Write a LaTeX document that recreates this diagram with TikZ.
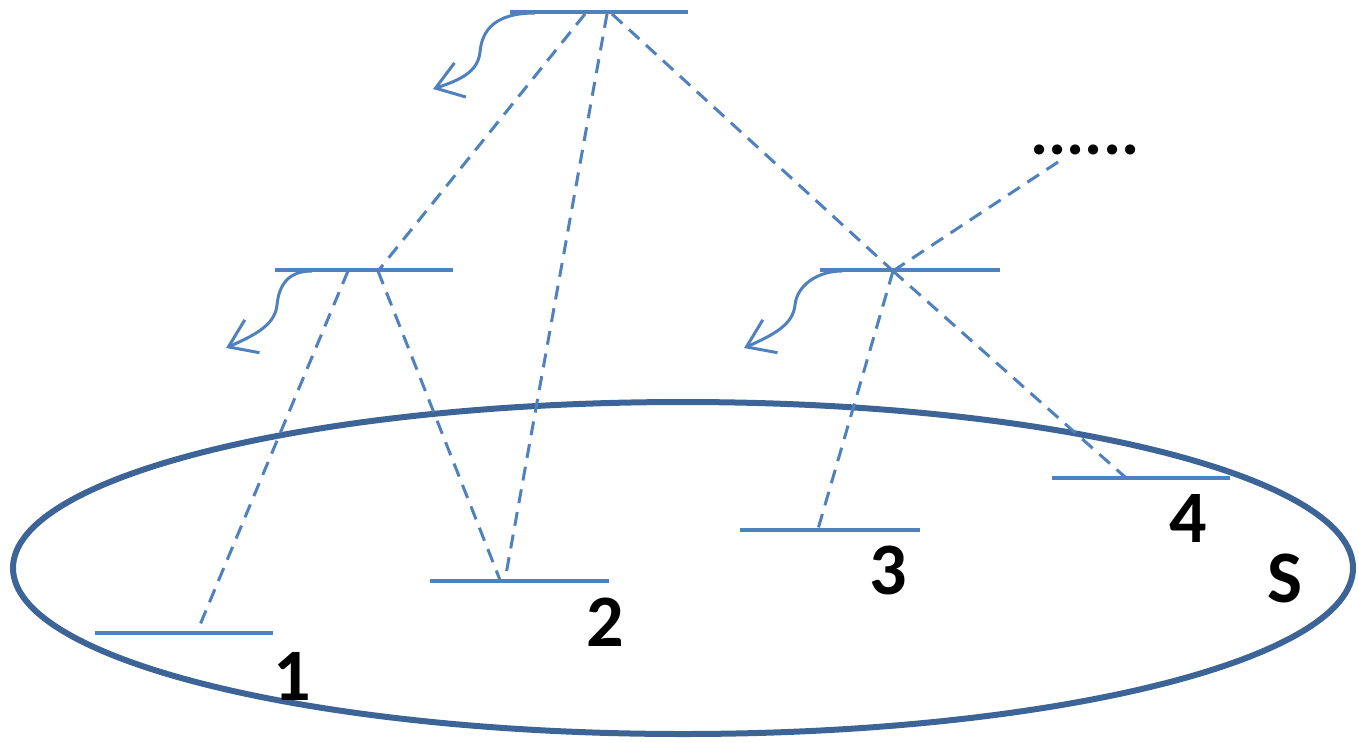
\documentclass[tikz,border=0pt]{standalone}
\usepackage{fontspec}
\setmainfont{Carlito}
\usetikzlibrary{arrows.meta}
\definecolor{lvl}{RGB}{79,129,189}
\definecolor{ell}{RGB}{60,100,150}
\begin{document}
\begin{tikzpicture}[x=1pt,y=-1pt,
  level/.style={draw=lvl,line width=3.5pt},
  trans/.style={draw=lvl,line width=3pt,dash pattern=on 14pt off 9pt},
  decay/.style={draw=lvl,line width=3pt,-{Straight Barb[length=26pt,width=36pt,line width=3pt]}},
  lab/.style={font=\fontsize{74}{80}\selectfont\bfseries,text=black,inner sep=0pt}]
\useasboundingbox (0,0) rectangle (1359,742);
% system ellipse
\draw[draw=ell,line width=6pt] (683,568) ellipse [x radius=670, y radius=166];
% levels
\coordinate (t1) at (510,12);   \coordinate (t2) at (688,12);
\coordinate (l1) at (275,270);  \coordinate (l2) at (453,270);
\coordinate (r1) at (820,270);  \coordinate (r2) at (1000,270);
\coordinate (a1) at (95,633);   \coordinate (a2) at (273,633);
\coordinate (b1) at (430,581);  \coordinate (b2) at (609,581);
\coordinate (c1) at (740,530);  \coordinate (c2) at (920,530);
\coordinate (d1) at (1052,478); \coordinate (d2) at (1230,478);
\foreach \p/\q in {t1/t2,l1/l2,r1/r2,a1/a2,b1/b2,c1/c2,d1/d2}
  \draw[level] (\p) -- (\q);
% transition points
\coordinate (tA) at (585,14);
\coordinate (tB) at (607,14);
\coordinate (tC) at (612,14);
\coordinate (lA) at (348,271);
\coordinate (lB) at (378,271);
\coordinate (rA) at (893,271);
\coordinate (aA) at (197,632);
\coordinate (bA) at (500,580);
\coordinate (bB) at (505,580);
\coordinate (cA) at (818,529);
\coordinate (dA) at (1125,477);
\node[lab,font=\fontsize{68}{80}\selectfont\bfseries] (dots) at (1085,150) {......};
\coordinate (dotsend) at (1058,162);
\draw[trans] (tA) -- (lB);
\draw[trans] (lA) -- (aA);
\draw[trans] (lB) -- (bA);
\draw[trans] (tB) -- (bB);
\draw[trans] (tC) -- (rA);
\draw[trans] (rA) -- (dA);
\draw[trans] (rA) -- (cA);
\draw[trans] (rA) -- (dotsend);
% decay arrows
\coordinate (ts) at (535,13);   \coordinate (te) at (433,89);
\coordinate (ls) at (312,271);  \coordinate (le) at (226,348);
\coordinate (rs) at (842,271);  \coordinate (re) at (744,348);
\draw[decay] (ts) .. controls (495,13) and (482,30) .. (480,52) .. controls (478,72) and (460,80) .. (te);
\draw[decay] (ls) .. controls (288,271) and (279,285) .. (277,305) .. controls (275,325) and (255,335) .. (le);
\draw[decay] (rs) .. controls (818,271) and (797,285) .. (795,305) .. controls (793,325) and (773,335) .. (re);
% labels
\node[lab] (n1) at (292,676) {1};
\node[lab] (n2) at (605,622) {2};
\node[lab] (n3) at (888,570) {3};
\node[lab] (n4) at (1188,518) {4};
\node[lab] (nS) at (1285,578) {S};
\end{tikzpicture}
\end{document}
